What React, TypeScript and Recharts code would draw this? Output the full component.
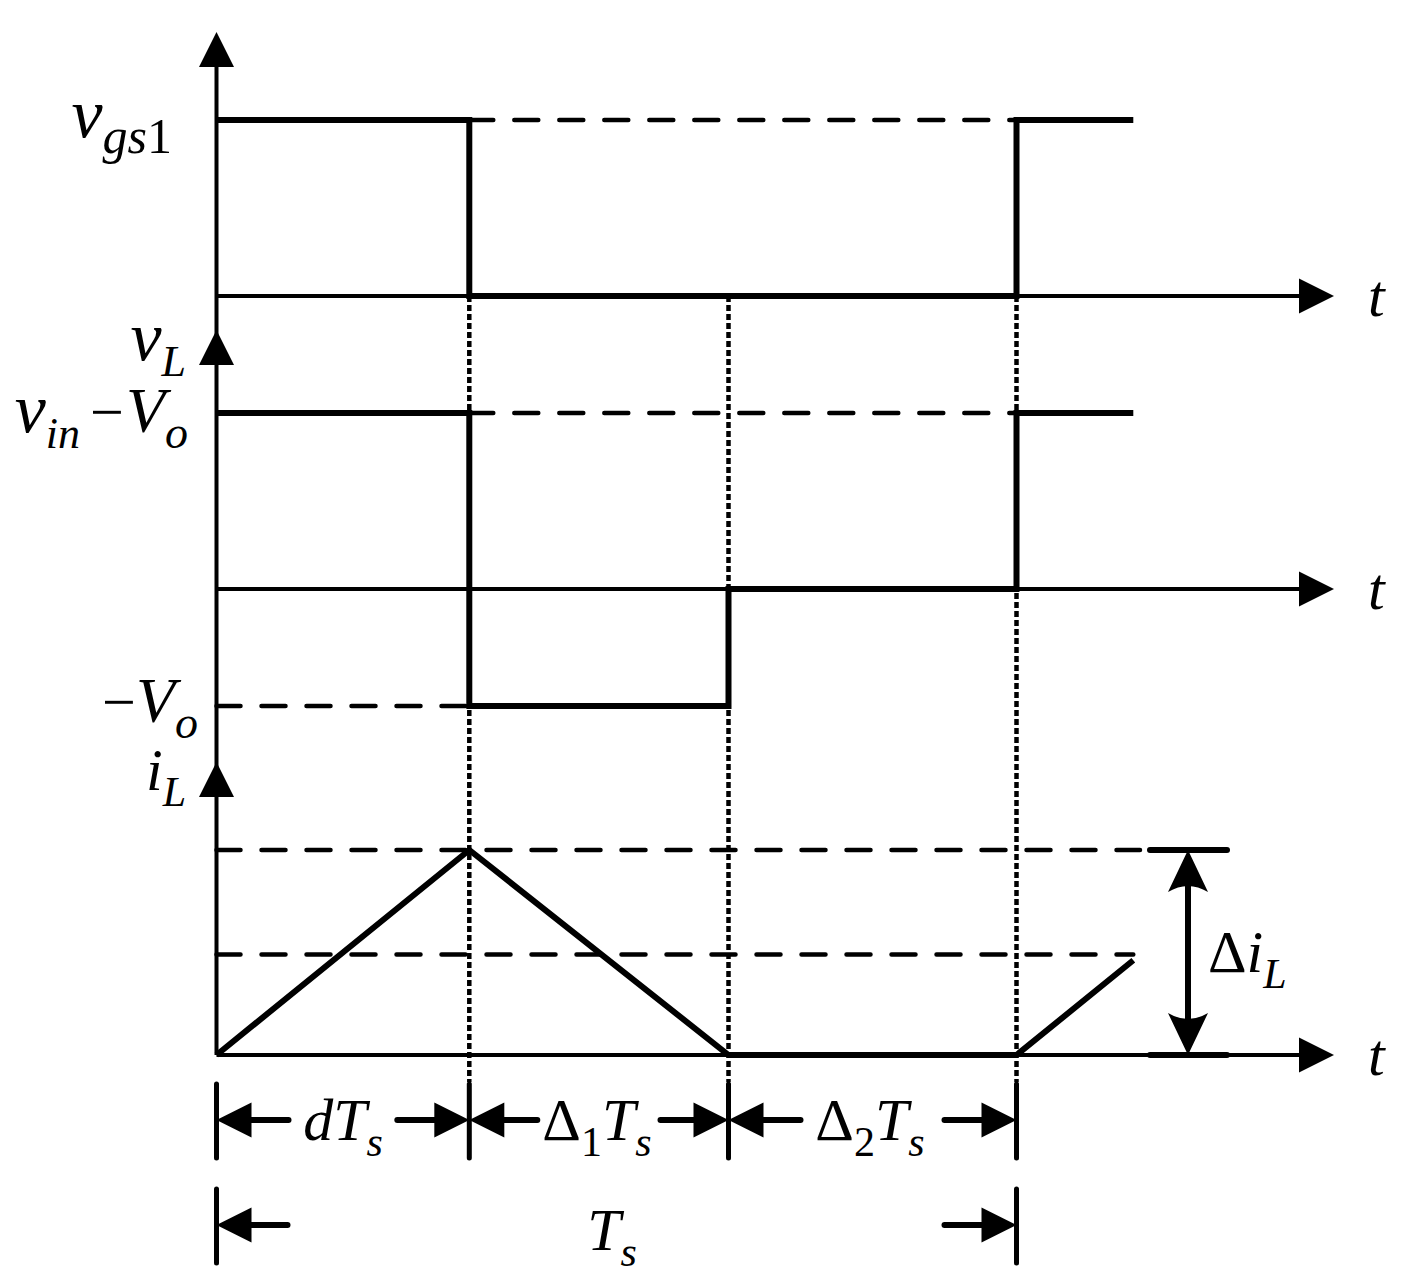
import { ComposedChart, Line, Scatter, XAxis, YAxis } from "recharts";

// switching instants, in units of the period Ts
const D = 0.316; // d
const D1 = 0.324; // Δ1
const TS = 1;
const T_END = 1.146;
const edges = [0, D, D + D1, TS];

// gate drive vgs1 (normalised)
const vgsTime = [0, D, D, TS, TS, T_END];
const vgsLevel = [1, 1, 0, 0, 1, 1];

// inductor voltage vL (vin - Vo = 1, -Vo = -0.665)
const vLTime = [0, D, D, D + D1, D + D1, TS, TS, T_END];
const vLLevel = [1, 1, -0.665, -0.665, 0, 0, 1, 1];

// inductor current iL (peak = 1)
const iLTime = [0, D, D + D1, TS, T_END];
const iLLevel = [0, 1, 0, 0, 0.462];
const iLMid = 0.49;

// ---- layout ----
const W = 1419;
const H = 1283;
const X0 = 216.5;
const XS = 800;
const tx = (px: number) => (px - X0) / XS;
const FONT = "Liberation Serif, Times New Roman, serif";
const F_MAIN = 60;
const F_SUB = 42;
const F_V = 70; // the big italic v of the mathtype labels

const panels = {
  vgs: { base: 296, gain: 176, tip: 32 },
  vL: { base: 589, gain: 176, tip: 330 },
  iL: { base: 1055, gain: 205, tip: 762 },
};
type PanelKey = keyof typeof panels;
const toY = (p: PanelKey, v: number) => panels[p].base - v * panels[p].gain;

const ROW1 = 1120;
const ROW2 = 1225;

type Pt = { x: number; y: number };
const seg = (x1: number, y1: number, x2: number, y2: number): Pt[] => [
  { x: x1, y: y1 },
  { x: x2, y: y2 },
];
const wave = (p: PanelKey, ts: number[], vs: number[]): Pt[] =>
  ts.map((t, i) => ({ x: t, y: toY(p, vs[i]) }));

type SegSpec = { pts: Pt[]; w: number; dash?: string; cap?: "round" | "butt" | "square" };

const axisRight = tx(1300);
const diX = tx(1188);
const diL = tx(1150);
const diR = tx(1227);

const segments: SegSpec[] = [
  // axes
  { pts: seg(0, 64, 0, panels.iL.base), w: 4 },
  ...(["vgs", "vL", "iL"] as PanelKey[]).map((p) => ({
    pts: seg(0, panels[p].base, axisRight, panels[p].base),
    w: 4,
  })),
  // dotted instants
  ...[D, D + D1, TS].map((t) => ({
    pts: seg(t, panels.vgs.base, t, 1082),
    w: 4.5,
    dash: "6 3",
    cap: "butt" as const,
  })),
  // dashed levels
  { pts: seg(D, toY("vgs", 1), TS, toY("vgs", 1)), w: 4.5, dash: "24 21", cap: "round" },
  { pts: seg(D, toY("vL", 1), TS, toY("vL", 1)), w: 4.5, dash: "24 21", cap: "round" },
  { pts: seg(0, toY("vL", -0.665), D, toY("vL", -0.665)), w: 4.5, dash: "24 21", cap: "round" },
  { pts: seg(0, toY("iL", 1), tx(1140), toY("iL", 1)), w: 4.5, dash: "24 21", cap: "round" },
  { pts: seg(0, toY("iL", iLMid), T_END, toY("iL", iLMid)), w: 4.5, dash: "24 21", cap: "round" },
  // dimension bars
  ...edges.map((t) => ({ pts: seg(t, 1084, t, 1158), w: 5, cap: "round" as const })),
  ...[0, TS].map((t) => ({ pts: seg(t, 1189, t, 1263), w: 5, cap: "round" as const })),
  // Δi_L marker
  { pts: seg(diL, toY("iL", 1), diR, toY("iL", 1)), w: 6, cap: "round" },
  { pts: seg(diL, toY("iL", 0), diR, toY("iL", 0)), w: 6, cap: "round" },
  { pts: seg(diX, toY("iL", 1) + 36, diX, toY("iL", 0) - 36), w: 6 },
];

const waves: Pt[][] = [
  wave("vgs", vgsTime, vgsLevel),
  wave("vL", vLTime, vLLevel),
  wave("iL", iLTime, iLLevel),
];

type Arrow = Pt & { dir: "up" | "down" | "left" | "right"; shaft?: number; barb?: boolean };
const arrows: Arrow[] = [
  ...(["vgs", "vL", "iL"] as PanelKey[]).map((p) => ({ x: 0, y: panels[p].tip, dir: "up" as const })),
  ...(["vgs", "vL", "iL"] as PanelKey[]).map((p) => ({
    x: tx(1334),
    y: panels[p].base,
    dir: "right" as const,
  })),
  { x: diX, y: toY("iL", 1), dir: "up", barb: true },
  { x: diX, y: toY("iL", 0), dir: "down", barb: true },
  { x: 0, y: ROW1, dir: "left", shaft: 37 },
  { x: D, y: ROW1, dir: "right", shaft: 37 },
  { x: D, y: ROW1, dir: "left", shaft: 33 },
  { x: D + D1, y: ROW1, dir: "right", shaft: 33 },
  { x: D + D1, y: ROW1, dir: "left", shaft: 37 },
  { x: TS, y: ROW1, dir: "right", shaft: 37 },
  { x: 0, y: ROW2, dir: "left", shaft: 36 },
  { x: TS, y: ROW2, dir: "right", shaft: 37 },
];

type Part = { s: string; sub?: boolean; up?: boolean; size?: number; dx?: number };
type Lbl = Pt & { anchor: "start" | "middle" | "end"; parts: Part[] };
const labels: Lbl[] = [
  {
    x: tx(172),
    y: 137,
    anchor: "end",
    parts: [
      { s: "v", size: F_V },
      { s: "gs", sub: true, size: 50 },
      { s: "1", sub: true, up: true, size: 50 },
    ],
  },
  { x: tx(186), y: 360, anchor: "end", parts: [{ s: "v", size: F_V }, { s: "L", sub: true, size: 44 }] },
  {
    x: tx(188),
    y: 432,
    anchor: "end",
    parts: [
      { s: "v", size: F_V },
      { s: "in", sub: true, size: 44 },
      { s: "\u2212", up: true, dx: 10 },
      { s: "V", size: 64, dx: 2 },
      { s: "o", sub: true, size: 46 },
    ],
  },
  {
    x: tx(198),
    y: 722,
    anchor: "end",
    parts: [{ s: "\u2212", up: true }, { s: "V", size: 64 }, { s: "o", sub: true, size: 46 }],
  },
  { x: tx(186), y: 790, anchor: "end", parts: [{ s: "i" }, { s: "L", sub: true }] },
  ...(["vgs", "vL", "iL"] as PanelKey[]).map((p) => ({
    x: tx(1368),
    y: panels[p].base + 20,
    anchor: "start" as const,
    parts: [{ s: "t" }],
  })),
  { x: tx(343), y: ROW1 + 20, anchor: "middle", parts: [{ s: "d" }, { s: "T" }, { s: "s", sub: true }] },
  {
    x: tx(597),
    y: ROW1 + 20,
    anchor: "middle",
    parts: [{ s: "\u0394", up: true }, { s: "1", sub: true, up: true }, { s: "T" }, { s: "s", sub: true }],
  },
  {
    x: tx(870),
    y: ROW1 + 20,
    anchor: "middle",
    parts: [{ s: "\u0394", up: true }, { s: "2", sub: true, up: true }, { s: "T" }, { s: "s", sub: true }],
  },
  { x: tx(612), y: ROW2 + 25, anchor: "middle", parts: [{ s: "T" }, { s: "s", sub: true }] },
  {
    x: tx(1208),
    y: 972,
    anchor: "start",
    parts: [{ s: "\u0394", up: true }, { s: "i" }, { s: "L", sub: true }],
  },
];

function ArrowHead(props: any) {
  const { cx, cy, payload } = props;
  if (cx == null || cy == null) return null;
  const a = payload as Arrow;
  const L = a.barb ? 42 : 35;
  const hw = a.barb ? 20 : 17.5;
  const rot = { up: 0, right: 90, down: 180, left: 270 }[a.dir];
  const head = a.barb
    ? `M0,0 L${hw},${L} Q0,${L - 12} ${-hw},${L} Z`
    : `M0,0 L${hw},${L} L${-hw},${L} Z`;
  return (
    <g transform={`translate(${cx},${cy}) rotate(${rot})`}>
      <path d={head} fill="#000" />
      {a.shaft ? (
        <line x1={0} y1={L - 1} x2={0} y2={L + a.shaft} stroke="#000" strokeWidth={6} strokeLinecap="round" />
      ) : null}
    </g>
  );
}

function TextLabel(props: any) {
  const { cx, cy, payload } = props;
  if (cx == null || cy == null) return null;
  const l = payload as Lbl;
  let off = 0;
  return (
    <text x={cx} y={cy} textAnchor={l.anchor} fontFamily={FONT} fontSize={F_MAIN} fill="#000">
      {l.parts.map((p, i) => {
        const target = p.sub ? 16 : 0;
        const dy = target - off;
        off = target;
        return (
          <tspan
            key={i}
            dy={dy}
            dx={p.dx}
            fontSize={p.size ?? (p.sub ? F_SUB : F_MAIN)}
            fontStyle={p.up ? "normal" : "italic"}
          >
            {p.s}
          </tspan>
        );
      })}
    </text>
  );
}

export default function App() {
  return (
    <div style={{ position: "absolute", left: 0, top: 0, width: W, height: H, background: "#fff" }}>
      <ComposedChart width={W} height={H} margin={{ top: 0, right: 0, bottom: 0, left: 0 }}>
        <XAxis
          type="number"
          dataKey="x"
          domain={[-X0 / XS, (W - X0) / XS]}
          allowDataOverflow
          hide
        />
        <YAxis type="number" dataKey="y" domain={[0, H]} reversed allowDataOverflow hide />
        {segments.map((s, i) => (
          <Line
            key={`s${i}`}
            data={s.pts}
            dataKey="y"
            type="linear"
            stroke="#000"
            strokeWidth={s.w}
            strokeDasharray={s.dash}
            strokeLinecap={s.cap ?? "butt"}
            dot={false}
            activeDot={false}
            legendType="none"
            isAnimationActive={false}
          />
        ))}
        {waves.map((w, i) => (
          <Line
            key={`w${i}`}
            data={w}
            dataKey="y"
            type="linear"
            stroke="#000"
            strokeWidth={6}
            strokeLinejoin="miter"
            dot={false}
            activeDot={false}
            legendType="none"
            isAnimationActive={false}
          />
        ))}
        <Scatter data={arrows} dataKey="y" shape={(p: any) => <ArrowHead {...p} />} isAnimationActive={false} />
        <Scatter data={labels} dataKey="y" shape={(p: any) => <TextLabel {...p} />} isAnimationActive={false} />
      </ComposedChart>
    </div>
  );
}
